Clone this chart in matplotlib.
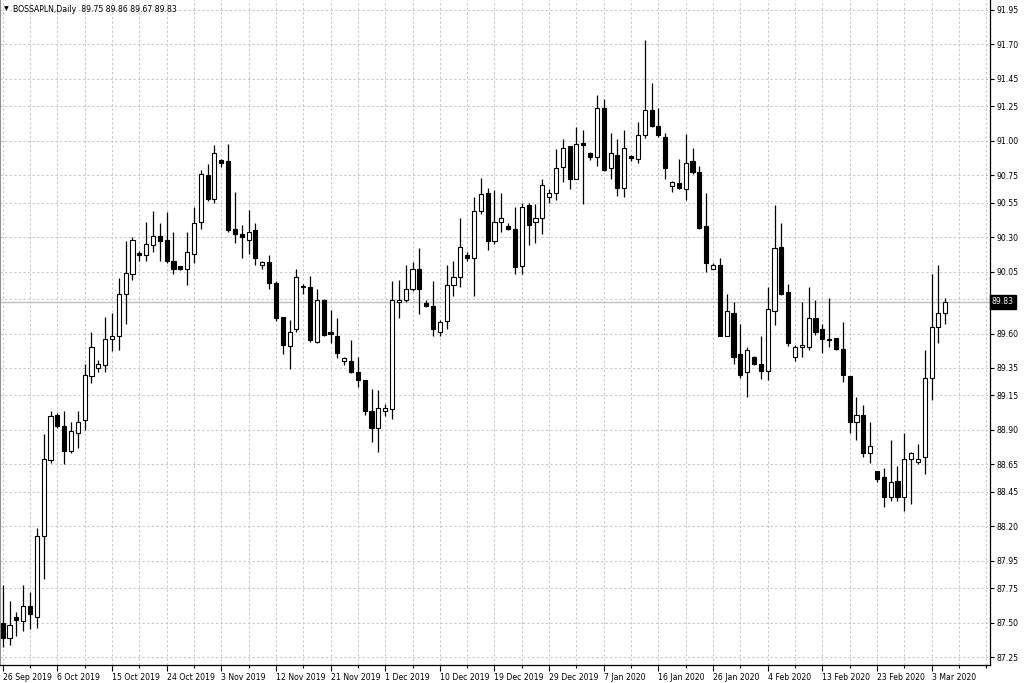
import matplotlib
matplotlib.use('Agg')
import matplotlib.pyplot as plt

# ---- data ----
opens = [87.50, 87.39, 87.54, 87.51, 87.62, 87.54, 88.13, 88.68, 89.01, 88.93,
         88.75, 88.88, 88.97, 89.29, 89.35, 89.37, 89.56, 89.58, 89.89, 90.03,
         90.18, 90.17, 90.24, 90.31, 90.28, 90.13, 90.09, 90.07, 90.18, 90.41,
         90.75, 90.58, 90.86, 90.85, 90.36, 90.32, 90.28, 90.35, 90.10, 90.12,
         89.97, 89.72, 89.51, 89.63, 89.935, 89.94, 89.54, 89.84, 89.61, 89.58,
         89.40, 89.40, 89.32, 89.26, 89.04, 88.91, 89.04, 89.05, 89.83, 89.84,
         89.92, 90.07, 89.82, 89.80, 89.61, 89.69, 89.95, 90.01, 90.17, 90.15,
         90.49, 90.62, 90.27, 90.41, 90.38, 90.36, 90.09, 90.53, 90.41, 90.44,
         90.59, 90.62, 90.81, 90.96, 90.72, 90.98, 90.91, 90.88, 91.24, 90.80,
         90.90, 90.66, 90.885, 90.87, 91.04, 91.22, 91.11, 91.03, 90.67, 90.69,
         90.65, 90.85, 90.77, 90.38, 90.07, 90.10, 89.58, 89.75, 89.45, 89.32,
         89.43, 89.38, 89.33, 89.76, 90.23, 89.90, 89.43, 89.50, 89.50, 89.71,
         89.63, 89.55, 89.57, 89.49, 89.29, 88.96, 89.01, 88.73, 88.60, 88.56,
         88.41, 88.53, 88.41, 88.69, 88.67, 88.70, 89.28, 89.65, 89.75]
highs = [87.77, 87.66, 87.58, 87.77, 87.72, 88.19, 88.87, 89.04, 89.02, 89.04,
         88.96, 89.04, 89.38, 89.61, 89.41, 89.72, 89.75, 90.00, 90.27, 90.30,
         90.20, 90.41, 90.49, 90.40, 90.48, 90.34, 90.09, 90.34, 90.52, 90.79,
         90.83, 90.97, 90.87, 90.98, 90.63, 90.39, 90.50, 90.40, 90.13, 90.17,
         89.98, 89.72, 89.70, 90.07, 89.96, 90.02, 89.92, 89.85, 89.77, 89.71,
         89.43, 89.55, 89.43, 89.26, 89.20, 89.19, 89.09, 89.98, 89.99, 90.10,
         90.12, 90.22, 89.84, 89.98, 89.70, 90.10, 90.13, 90.44, 90.19, 90.59,
         90.73, 90.66, 90.64, 90.62, 90.40, 90.52, 90.55, 90.55, 90.54, 90.72,
         90.65, 90.94, 91.01, 90.96, 91.10, 91.08, 90.92, 91.33, 91.30, 91.06,
         91.01, 91.08, 90.90, 91.14, 91.73, 91.42, 91.24, 91.06, 90.71, 90.87,
         91.05, 90.95, 90.82, 90.62, 90.11, 90.15, 89.89, 89.83, 89.67, 89.50,
         89.44, 89.58, 89.94, 90.53, 90.40, 89.96, 89.52, 89.83, 89.94, 89.84,
         89.67, 89.86, 89.57, 89.68, 89.29, 89.14, 89.08, 88.96, 88.60, 88.62,
         88.83, 88.64, 88.88, 88.74, 88.80, 89.48, 90.03, 90.10, 89.86]
lows = [87.32, 87.34, 87.40, 87.44, 87.45, 87.46, 87.82, 88.66, 88.91, 88.65,
        88.73, 88.77, 88.90, 89.24, 89.32, 89.32, 89.47, 89.48, 89.67, 89.99,
        90.13, 90.13, 90.19, 90.13, 90.11, 90.03, 90.06, 89.95, 90.11, 90.36,
        90.56, 90.55, 90.81, 90.34, 90.26, 90.15, 90.18, 90.10, 90.07, 89.92,
        89.69, 89.45, 89.34, 89.61, 89.89, 89.54, 89.53, 89.58, 89.53, 89.42,
        89.37, 89.31, 89.21, 89.01, 88.81, 88.74, 89.00, 88.98, 89.71, 89.83,
        89.91, 89.74, 89.79, 89.58, 89.58, 89.63, 89.87, 89.94, 90.13, 89.87,
        90.47, 90.21, 90.25, 90.34, 90.35, 90.03, 90.03, 90.24, 90.26, 90.32,
        90.55, 90.57, 90.70, 90.65, 90.72, 90.54, 90.86, 90.82, 90.78, 90.72,
        90.60, 90.59, 90.855, 90.84, 91.02, 91.10, 91.03, 90.72, 90.63, 90.65,
        90.57, 90.76, 90.36, 90.05, 90.07, 89.58, 89.58, 89.38, 89.28, 89.14,
        89.37, 89.27, 89.26, 89.66, 89.88, 89.51, 89.40, 89.43, 89.48, 89.59,
        89.46, 89.50, 89.48, 89.25, 88.88, 88.83, 88.70, 88.66, 88.52, 88.34,
        88.38, 88.38, 88.31, 88.36, 88.65, 88.58, 89.12, 89.53, 89.67]
closes = [87.39, 87.48, 87.52, 87.62, 87.56, 88.13, 88.69, 89.00, 88.93, 88.75,
          88.89, 88.96, 89.30, 89.50, 89.38, 89.56, 89.58, 89.89, 90.04, 90.28,
          90.17, 90.25, 90.31, 90.27, 90.13, 90.07, 90.07, 90.19, 90.40, 90.76,
          90.58, 90.91, 90.84, 90.35, 90.32, 90.30, 90.34, 90.15, 90.12, 89.97,
          89.71, 89.52, 89.61, 90.01, 89.945, 89.55, 89.84, 89.59, 89.60, 89.46,
          89.42, 89.32, 89.26, 89.04, 88.91, 89.06, 89.06, 89.84, 89.84, 89.92,
          90.07, 89.92, 89.80, 89.63, 89.68, 89.95, 90.01, 90.23, 90.15, 90.49,
          90.61, 90.27, 90.41, 90.44, 90.36, 90.08, 90.52, 90.39, 90.44, 90.68,
          90.62, 90.80, 90.95, 90.72, 90.98, 90.97, 90.88, 91.24, 90.79, 90.91,
          90.66, 90.95, 90.875, 91.04, 91.22, 91.11, 91.04, 90.80, 90.70, 90.66,
          90.84, 90.77, 90.37, 90.11, 90.10, 89.58, 89.76, 89.43, 89.30, 89.48,
          89.38, 89.33, 89.78, 90.22, 89.89, 89.53, 89.50, 89.52, 89.71, 89.61,
          89.56, 89.56, 89.49, 89.30, 88.96, 89.01, 88.73, 88.78, 88.54, 88.41,
          88.52, 88.41, 88.69, 88.73, 88.69, 89.28, 89.65, 89.75, 89.83]

date_labels = ["26 Sep 2019", "6 Oct 2019", "15 Oct 2019", "24 Oct 2019",
               "3 Nov 2019", "12 Nov 2019", "21 Nov 2019", "1 Dec 2019",
               "10 Dec 2019", "19 Dec 2019", "29 Dec 2019", "7 Jan 2020",
               "16 Jan 2020", "26 Jan 2020", "4 Feb 2020", "13 Feb 2020",
               "23 Feb 2020", "3 Mar 2020"]
price_ticks = [91.95, 91.70, 91.45, 91.25, 91.00, 90.75, 90.55, 90.30, 90.05,
               89.60, 89.35, 89.15, 88.90, 88.65, 88.45, 88.20, 87.95, 87.75,
               87.50, 87.25]
hidden_price_ticks = [89.85]
last_price = 89.83
symbol = "BOSSAPLN,Daily"

# ---- figure ----
W, H = 1024, 683
fig = plt.figure(figsize=(W / 100, H / 100), dpi=100)
fig.patch.set_facecolor('white')
ax_right, ax_bottom = 990, 665
ax = fig.add_axes([0, (H - ax_bottom) / H, ax_right / W, ax_bottom / H])
ax.set_facecolor('white')

n = len(opens)
xs = list(range(n))
ax.set_xlim(-0.395, 144.55)
ax.set_ylim(87.192, 92.0226)

grid_kw = dict(color='#c8c8c8', linestyle=(0, (2.2, 2.2)), linewidth=0.75, zorder=0)

# ticks
major_x = list(range(0, 8 * len(date_labels), 8))
minor_x = [m + 4 for m in major_x] + [144]
ax.set_xticks(major_x)
ax.set_xticklabels(date_labels, ha='left')
ax.set_xticks(minor_x, minor=True)
ax.yaxis.tick_right()
ax.set_yticks(price_ticks)
ax.set_yticklabels([f"{p:.2f}" for p in price_ticks])
ax.set_yticks(hidden_price_ticks, minor=True)
ax.tick_params(axis='y', which='minor', length=0, labelright=False)

ax.grid(True, which='both', **grid_kw)
ax.set_axisbelow(True)

ax.tick_params(axis='x', which='major', direction='out', length=4, width=0.8,
               labelsize=5.6, pad=2, colors='black')
ax.tick_params(axis='x', which='minor', direction='out', length=2, width=0.8)
ax.tick_params(axis='y', which='major', direction='out', length=3, width=0.8,
               labelsize=5.6, pad=2, colors='black')

ax.spines['top'].set_visible(False)
ax.spines['left'].set_color('#909090')
ax.spines['left'].set_linewidth(0.8)
for side in ['right', 'bottom']:
    ax.spines[side].set_color('black')
    ax.spines[side].set_linewidth(0.9)

# last price line
ax.axhline(last_price, color='#c0c0c0', linewidth=1.0, zorder=1)

# candles
ax.vlines(xs, lows, highs, colors='black', linewidth=0.9, zorder=2)
bottoms = [min(o, c) for o, c in zip(opens, closes)]
heights = [max(abs(c - o), 0.012) for o, c in zip(opens, closes)]
colors = ['white' if c >= o else 'black' for o, c in zip(opens, closes)]
ax.bar(xs, heights, bottom=bottoms, width=0.6, color=colors,
       edgecolor='black', linewidth=0.8, zorder=3)

# price label box
ax.text(1.0 + 2 / ax_right, last_price, f"{last_price:.2f}",
        transform=ax.get_yaxis_transform(), color='white', fontsize=5.6,
        va='center', ha='left',
        bbox=dict(boxstyle='square,pad=0.3', fc='black', ec='black'))

# header
fig.text(4 / W, 1 - 9 / H, "\u25BC", fontsize=4.5, va='center', ha='left')
fig.text(13 / W, 1 - 9 / H,
         f"{symbol}  {opens[-1]:.2f} {highs[-1]:.2f} {lows[-1]:.2f} {closes[-1]:.2f}",
         fontsize=5.6, va='center', ha='left')

fig.savefig('out.png', dpi=100, facecolor='white')
